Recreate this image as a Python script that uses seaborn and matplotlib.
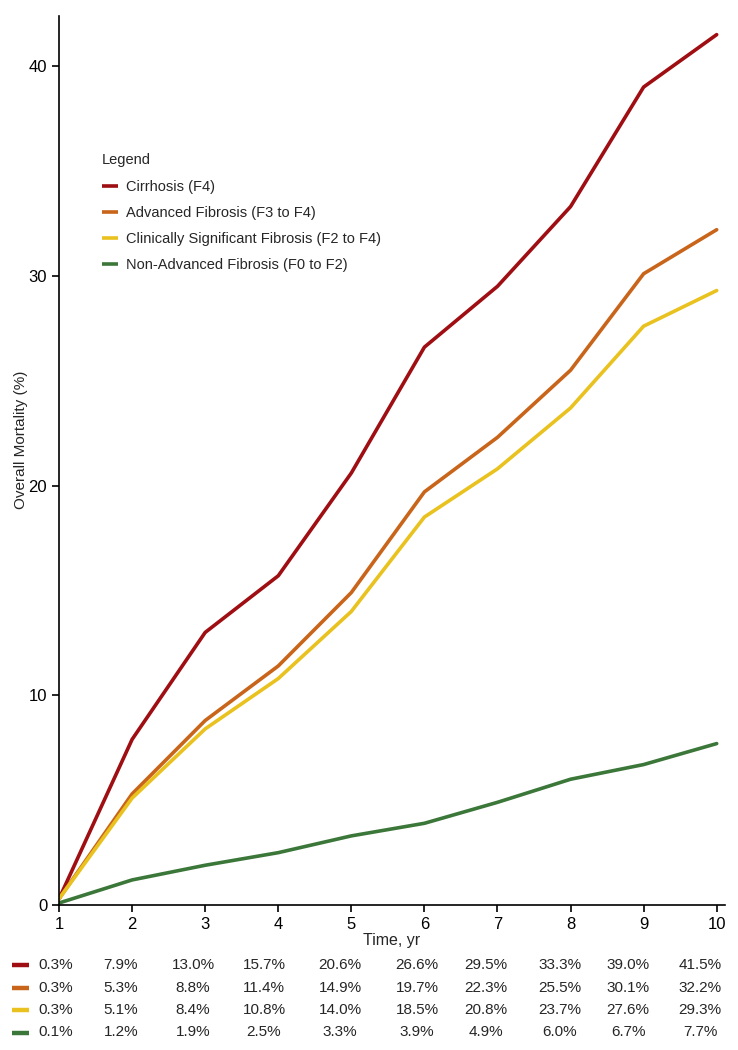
import pandas as pd
import matplotlib
matplotlib.use("Agg")
import matplotlib.pyplot as plt
import seaborn as sns

# --- data ---
years = [1, 2, 3, 4, 5, 6, 7, 8, 9, 10]
cirrhosis = [0.3, 7.9, 13.0, 15.7, 20.6, 26.6, 29.5, 33.3, 39.0, 41.5]
advanced = [0.3, 5.3, 8.8, 11.4, 14.9, 19.7, 22.3, 25.5, 30.1, 32.2]
clin_sig = [0.3, 5.1, 8.4, 10.8, 14.0, 18.5, 20.8, 23.7, 27.6, 29.3]
non_adv = [0.1, 1.2, 1.9, 2.5, 3.3, 3.9, 4.9, 6.0, 6.7, 7.7]

groups = ["Cirrhosis (F4)", "Advanced Fibrosis (F3 to F4)",
          "Clinically Significant Fibrosis (F2 to F4)", "Non-Advanced Fibrosis (F0 to F2)"]
colors = ["#9E0E12", "#C9651A", "#E9C21F", "#3C773A"]
series = [cirrhosis, advanced, clin_sig, non_adv]

# long format for seaborn
rows = []
for g, vals in zip(groups, series):
    for t, v in zip(years, vals):
        rows.append({"Time": t, "Mortality": v, "Group": g})
df = pd.DataFrame(rows)

sns.set_style("ticks")
plt.rcParams["font.family"] = ["Liberation Sans", "DejaVu Sans"]

fig = plt.figure(figsize=(7.38, 10.5), dpi=100)
ax = fig.add_axes([0.080, 0.138, 0.902, 0.847])

sns.lineplot(data=df, x="Time", y="Mortality", hue="Group", hue_order=groups,
             palette=colors, linewidth=2.6, ax=ax)

ax.set_xlim(1, 10.11)
ax.set_ylim(0, 42.4)
ax.set_xticks(years)
ax.set_yticks([0, 10, 20, 30, 40])
ax.tick_params(labelsize=12, length=5, width=1.2, colors="black")
ax.set_xlabel("Time, yr", fontsize=11.5, labelpad=1)
ax.set_ylabel("Overall Mortality (%)", fontsize=11)
ax.yaxis.set_label_coords(-0.047, 0.523)
sns.despine(ax=ax)
for s in ["left", "bottom"]:
    ax.spines[s].set_linewidth(1.2)
    ax.spines[s].set_color("black")

leg = ax.legend(title="Legend", loc="upper left", bbox_to_anchor=(0.045, 0.86),
                frameon=False, fontsize=10.5, title_fontsize=10.5,
                handlelength=1.1, handletextpad=0.55, labelspacing=0.84)
leg._legend_box.align = "left"
for h in leg.get_lines():
    h.set_solid_capstyle("butt")

# --- risk table under the plot ---
row_y = [965, 987.5, 1010, 1032.5]
col_x = [56, 121, 193, 264, 340, 417, 486, 560, 628, 700]
for vals, c, yy in zip(series, colors, row_y):
    fy = 1 - yy / 1050
    fig.add_artist(plt.Line2D([12 / 738, 29 / 738], [fy, fy], color=c,
                              linewidth=3.2, solid_capstyle="butt"))
    for v, xx in zip(vals, col_x):
        fig.text(xx / 738, fy, f"{v:.1f}%", ha="center", va="center", fontsize=11)

plt.savefig("out.png", dpi=100)
